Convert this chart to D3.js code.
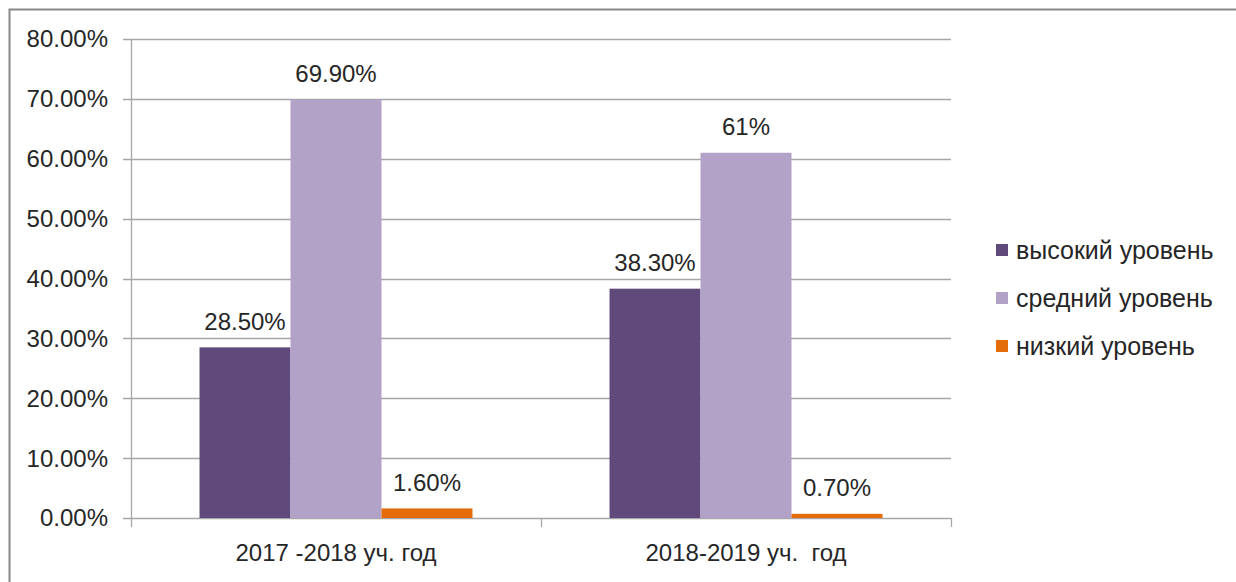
<!DOCTYPE html>
<html><head><meta charset="utf-8">
<script src="https://cdn.jsdelivr.net/npm/d3@7"></script>
<style>
html,body{margin:0;padding:0;background:#fff;}
svg{display:block;font-family:"Liberation Sans","Open Sans",sans-serif;}
</style></head>
<body>
<svg id="chart" width="1236" height="582"></svg>
<script>
const categories = ["2017 -2018 уч. год", "2018-2019 уч.  год"];
const seriesNames = ["высокий уровень", "средний уровень", "низкий уровень"];
const seriesColors = ["#604A7B", "#B3A2C7", "#E46C0A"];
const high = [0.285, 0.383];
const medium = [0.699, 0.61];
const low = [0.016, 0.007];
const valueLabels = [["28.50%", "38.30%"], ["69.90%", "61%"], ["1.60%", "0.70%"]];
const yTicks = [0, 0.1, 0.2, 0.3, 0.4, 0.5, 0.6, 0.7, 0.8];
const yTickLabels = ["0.00%", "10.00%", "20.00%", "30.00%", "40.00%", "50.00%", "60.00%", "70.00%", "80.00%"];

(function () {
const series = [high, medium, low];
const svg = d3.select("#chart");
const fontSize = 24;
const textColor = "#262626";
const gridColor = "#A6A6A6";

// frame
svg.append("rect").attr("x", 9.5).attr("y", 9.5).attr("width", 1300).attr("height", 700)
  .attr("fill", "none").attr("stroke", "#878787").attr("stroke-width", 2);

const pLeft = 131, pRight = 951, pTop = 39, pBottom = 518;
const y = d3.scaleLinear().domain([0, 0.8]).range([pBottom, pTop]);
const x0 = d3.scaleBand().domain(categories).range([pLeft, pRight]).paddingInner(0).paddingOuter(0);
const x1 = d3.scaleBand().domain(d3.range(series.length)).range([0, x0.bandwidth()]).paddingInner(0).paddingOuter(0.753);

// gridlines
svg.append("g").selectAll("line").data(yTicks).join("line")
  .attr("x1", pLeft - 8).attr("x2", pRight)
  .attr("y1", d => Math.round(y(d)) + 0.5).attr("y2", d => Math.round(y(d)) + 0.5)
  .attr("stroke", gridColor).attr("stroke-width", 1.3);

// y axis line
svg.append("line").attr("x1", pLeft + 0.5).attr("x2", pLeft + 0.5).attr("y1", y(0.8)).attr("y2", y(0))
  .attr("stroke", gridColor).attr("stroke-width", 1.3);

// y tick labels
svg.append("g").selectAll("text").data(yTicks).join("text")
  .attr("x", 108).attr("y", d => y(d)).attr("dy", "0.35em")
  .attr("text-anchor", "end").attr("font-size", fontSize).attr("fill", textColor)
  .text((d, i) => yTickLabels[i]);

// x category ticks
const xTickPos = categories.map(c => x0(c)).concat([x0(categories[categories.length - 1]) + x0.bandwidth()]);
svg.append("g").selectAll("line").data(xTickPos).join("line")
  .attr("x1", d => Math.round(d) + 0.5).attr("x2", d => Math.round(d) + 0.5)
  .attr("y1", pBottom).attr("y2", pBottom + 9)
  .attr("stroke", gridColor).attr("stroke-width", 1.3);

// bars
series.forEach((vals, si) => {
  const g = svg.append("g");
  g.selectAll("rect").data(vals).join("rect")
    .attr("x", (d, i) => x0(categories[i]) + x1(si))
    .attr("width", x1.bandwidth())
    .attr("y", d => y(d))
    .attr("height", d => y(0) - y(d))
    .attr("fill", seriesColors[si]);
  g.selectAll("text").data(vals).join("text")
    .attr("x", (d, i) => x0(categories[i]) + x1(si) + x1.bandwidth() / 2)
    .attr("y", d => y(d) - 26).attr("dy", "0.35em")
    .attr("text-anchor", "middle").attr("font-size", fontSize).attr("fill", textColor)
    .text((d, i) => valueLabels[si][i]);
});

// x labels
svg.append("g").selectAll("text").data(categories).join("text")
  .attr("x", d => x0(d) + x0.bandwidth() / 2).attr("y", 553).attr("dy", "0.35em")
  .attr("text-anchor", "middle").attr("font-size", fontSize).attr("fill", textColor)
  .attr("xml:space", "preserve").style("white-space", "pre")
  .text(d => d);

// legend
const legend = svg.append("g");
seriesNames.forEach((name, i) => {
  const ly = 250 + i * 48;
  legend.append("rect").attr("x", 996).attr("y", ly - 6).attr("width", 12).attr("height", 12).attr("fill", seriesColors[i]);
  legend.append("text").attr("x", 1016).attr("y", ly).attr("dy", "0.35em")
    .attr("font-size", 25).attr("fill", textColor).text(name);
});
})();
</script>
</body></html>
